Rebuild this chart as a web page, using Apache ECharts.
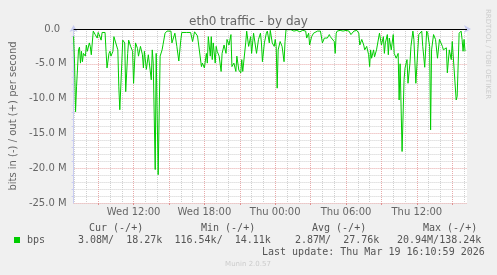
<!DOCTYPE html>
<html>
<head>
<meta charset="utf-8">
<script src="https://cdn.jsdelivr.net/npm/echarts@6/dist/echarts.min.js"></script>
<style>
html,body{margin:0;padding:0;background:#F0F0F0;}
#chart{width:497px;height:275px;}
</style>
</head>
<body>
<div id="chart"></div>
<script>
// ---- data ----
// time axis: 5-minute steps starting Wed 06:55
const startLabelDay = ['Wed', 'Thu'];
const startMinute = 6 * 60 + 55;
const stepMinutes = 5;
const stepCount = 400;

// sample positions (5-minute steps since start) and inbound traffic in Mbit/s (negative = in)
const steps = [
  0,1,2,3,5,6,7,8,9,10,12,13,14,16,17,18,20,21,22,24,25,26,28,29,30,32,33,34,36,37,38,40,41,43,45,46,47,49,50,52,53,55,56,58,60,61,63,65,66,68,70,71,72,74,76,77,79,80,81,83,84,86,88,90,91,93,95,97,99,100,103,105,107,109,110,112,115,117,119,121,123,125,126,128,130,131,133,135,136,137,139,140,141,142,144,145,146,148,150,151,153,155,156,158,160,161,163,165,166,168,170,171,172,174,175,176,178,180,181,183,186,188,190,191,192,194,196,197,199,200,202,204,205,206,207,208,210,212,214,215,216,218,221,224,227,230,233,236,237,239,240,242,244,246,248,251,253,255,256,258,260,261,263,265,266,267,268,271,274,277,280,282,285,288,290,291,293,295,296,298,300,301,302,303,305,306,308,310,311,313,315,316,317,319,320,321,323,325,326,328,330,331,332,334,336,337,339,340,342,343,345,346,348,350,351,353,354,355,356,357,359,360,362,363,364,366,368,370,371,372,375,376,377,379,380,382,384,385,387,389,390,392,394,395,396,397,398
];
const inMbps = [
  -1.06,-4.9,-11.9,-8.3,-3.0,-2.6,-4.9,-3.2,-4.7,-3.5,-3.9,-2.3,-3.2,-2.0,-2.5,-3.7,-0.3,-0.5,-0.8,-1.3,-0.5,-0.8,-1.6,-0.5,-0.6,-0.5,-3.2,-5.6,-3.5,-3.2,-3.9,-3.2,-1.1,-1.3,-3.0,-8.3,-11.6,-5.0,-1.6,-2.0,-9.0,-3.5,-1.6,-2.5,-3.2,-7.8,-2.0,-2.8,-3.9,-2.5,-3.7,-5.6,-3.2,-5.8,-3.7,-3.9,-7.3,-3.0,-4.9,-20.2,-3.5,-20.94,-3.9,-3.0,-2.2,-0.6,-0.3,-0.4,-0.3,-2.0,-0.6,-2.5,-4.6,-1.6,-0.5,-0.3,-0.5,-0.3,-0.5,-1.8,-0.4,-0.3,-1.0,-0.8,-5.4,-4.9,-5.6,-3.5,-4.9,-1.1,-3.9,-1.1,-4.4,-2.0,-4.9,-2.5,-3.2,-3.9,-6.1,-3.5,-2.3,-3.5,-1.5,-2.3,-0.8,-5.4,-4.9,-6.1,-3.9,-5.9,-6.3,-4.4,-6.1,-6.3,-2.0,-0.3,-2.5,-1.1,-3.5,-0.6,-3.5,-1.5,-0.6,-2.0,-4.7,-2.0,-0.6,-0.3,-2.0,-0.2,-2.0,-2.5,-1.5,-2.5,-8.5,-3.0,-1.8,-2.5,-4.7,-1.8,-0.1,-0.2,-0.1,-0.3,-0.2,-0.4,-0.2,-0.3,-1.3,-0.6,-2.3,-1.1,-0.6,-0.8,-0.3,-0.3,-2.0,-1.3,-1.1,-1.3,-0.8,-1.1,-1.3,-1.8,-3.5,-0.6,-0.3,-0.2,-0.3,-0.2,-0.3,-0.8,-0.3,-0.2,-0.6,-2.3,-1.5,-2.3,-3.0,-2.5,-3.7,-5.4,-3.0,-4.2,-3.0,-4.0,-3.0,-3.2,-0.6,-2.3,-1.1,-3.5,-2.0,-0.8,-3.7,-1.3,-3.0,-0.8,-3.5,-4.2,-3.5,-10.2,-5.0,-17.6,-7.3,-5.6,-4.4,-7.8,-4.9,-2.5,-0.3,-1.5,-7.8,-3.0,-0.8,-0.6,-0.3,-2.5,-3.9,-5.5,-0.3,-0.6,-2.5,-14.5,-3.0,-0.8,-1.5,-4.2,-4.4,-1.5,-2.5,-3.0,-3.2,-2.7,-6.3,-3.0,-4.4,-1.8,-2.0,-10.2,-9.7,-0.6,-0.3,-1.5,-3.2,-1.5,-3.2,-3.08
];

const yTickLabels = ['-25.0 M','-20.0 M','-15.0 M','-10.0 M','-5.0 M','0.0  '];
const legendHeaders = ['Cur (-/+)', 'Min (-/+)', 'Avg (-/+)', 'Max (-/+)'];
const legendValues = ['3.08M/  18.27k', '116.54k/  14.11k', '2.87M/  27.76k', '20.94M/138.24k'];
const seriesName = 'bps';
const titleText = 'eth0 traffic - by day';
const yAxisName = 'bits in (-) / out (+) per second';
const lastUpdate = 'Last update: Thu Mar 19 16:10:59 2026';
const footer = 'Munin 2.0.57';
const sideText = 'RRDTOOL / TOBI OETIKER';

// ---- build categories ----
const categories = [];
const catHour = [], catMin = [];
for (let i = 0; i <= stepCount; i++) {
  const t = startMinute + i * stepMinutes;
  const day = startLabelDay[Math.floor(t / 1440)];
  const m = t % 1440;
  const h = Math.floor(m / 60), mm = m % 60;
  catHour.push(h); catMin.push(mm);
  categories.push(day + ' ' + String(h).padStart(2, '0') + ':' + String(mm).padStart(2, '0'));
}
const data = steps.map((s, i) => [s, inMbps[i]]);

const FONT = '"DejaVu Sans", sans-serif';
const MONO = '"DejaVu Sans Mono", monospace';
const TXT = '#666666';
const AXIS = '#C8CCF0';
const MINOR = '#D0D0D0';
const MAJOR = '#E8AAAA';

const chart = echarts.init(document.getElementById('chart'), null, {renderer: 'canvas'});
const legendX = [89, 201, 312, 423];
const valueX = [78, 174.5, 295, 397];
const graphics = [
  {type: 'rect', shape: {x: 14, y: 237, width: 6, height: 6}, style: {fill: '#00CC00'}},
  {type: 'text', x: 27, y: 240, style: {text: seriesName, font: '10px ' + MONO, fill: '#555', textVerticalAlign: 'middle'}},
  {type: 'text', x: 262, y: 252, style: {text: lastUpdate, font: '10px ' + MONO, fill: '#555', textVerticalAlign: 'middle'}},
  {type: 'text', x: 248, y: 264, style: {text: footer, font: '7px ' + FONT, fill: '#CCCCCC', textAlign: 'center', textVerticalAlign: 'middle'}},
  {type: 'text', x: 488, y: 54, rotation: -Math.PI / 2, style: {text: sideText, font: '7px ' + FONT, fill: '#CCCCCC', textAlign: 'center', textVerticalAlign: 'middle'}}
];
legendHeaders.forEach((t, i) => graphics.push({type: 'text', x: legendX[i], y: 228, style: {text: t, font: '10px ' + MONO, fill: '#555', textVerticalAlign: 'middle'}}));
legendValues.forEach((t, i) => graphics.push({type: 'text', x: valueX[i], y: 240, style: {text: t, font: '10px ' + MONO, fill: '#555', textVerticalAlign: 'middle'}}));

const isHour = (i) => catMin[i] === 0;
chart.setOption({
  animation: false,
  backgroundColor: '#F0F0F0',
  title: {text: titleText, left: 'center', top: 11, textStyle: {fontFamily: FONT, fontSize: 12, fontWeight: 'normal', color: TXT}},
  grid: {left: 67, top: 29, width: 400, height: 174, backgroundColor: '#FFFFFF', show: true, borderWidth: 0},
  xAxis: [
    {
      type: 'category', data: categories, boundaryGap: false,
      axisLine: {show: true, lineStyle: {color: AXIS, width: 1}, symbol: ['none', 'arrow'], symbolSize: [6, 7], symbolOffset: [0, 4]},
      axisTick: {show: false},
      axisLabel: {
        interval: (i) => catMin[i] === 0 && catHour[i] % 6 === 0,
        margin: 4, fontFamily: FONT, fontSize: 10, color: TXT
      },
      splitLine: {show: true, interval: (i) => isHour(i) && catHour[i] % 3 !== 0, lineStyle: {color: MINOR, width: 1, type: [1, 1]}}
    },
    {
      type: 'category', data: categories, boundaryGap: false, position: 'bottom',
      axisLine: {show: false}, axisLabel: {show: false},
      axisTick: {show: true, interval: (i) => isHour(i) && catHour[i] % 3 === 0, length: 2, inside: false, lineStyle: {color: '#E09090'}},
      splitLine: {show: true, interval: (i) => isHour(i) && catHour[i] % 3 === 0, lineStyle: {color: MAJOR, width: 1, type: [1, 1]}}
    }
  ],
  yAxis: {
    type: 'value', min: -25, max: 0, interval: 5,
    name: yAxisName, nameLocation: 'middle', nameGap: 50, nameRotate: 90,
    nameTextStyle: {fontFamily: FONT, fontSize: 10, color: TXT},
    axisLine: {show: true, lineStyle: {color: AXIS, width: 1}, symbol: ['none', 'arrow'], symbolSize: [6, 7], symbolOffset: [0, 4]},
    axisTick: {show: false},
    axisLabel: {margin: 7, fontFamily: FONT, fontSize: 10, color: TXT,
      formatter: (v) => yTickLabels[Math.round((v + 25) / 5)]},
    splitLine: {show: true, lineStyle: {color: MAJOR, width: 1, type: [1, 1]}},
    minorTick: {show: true, splitNumber: 5, length: 2, lineStyle: {color: AXIS}},
    minorSplitLine: {show: true, lineStyle: {color: MINOR, width: 1, type: [1, 1]}}
  },
  series: [{
    name: seriesName, type: 'line', data: data,
    showSymbol: false, symbol: 'none',
    lineStyle: {color: '#00CC00', width: 1},
    markLine: {silent: true, symbol: 'none', label: {show: false},
      lineStyle: {color: '#000000', width: 1, type: 'solid'}, data: [{yAxis: 0}]},
    z: 3
  }],
  graphic: graphics
});
</script>
</body>
</html>
